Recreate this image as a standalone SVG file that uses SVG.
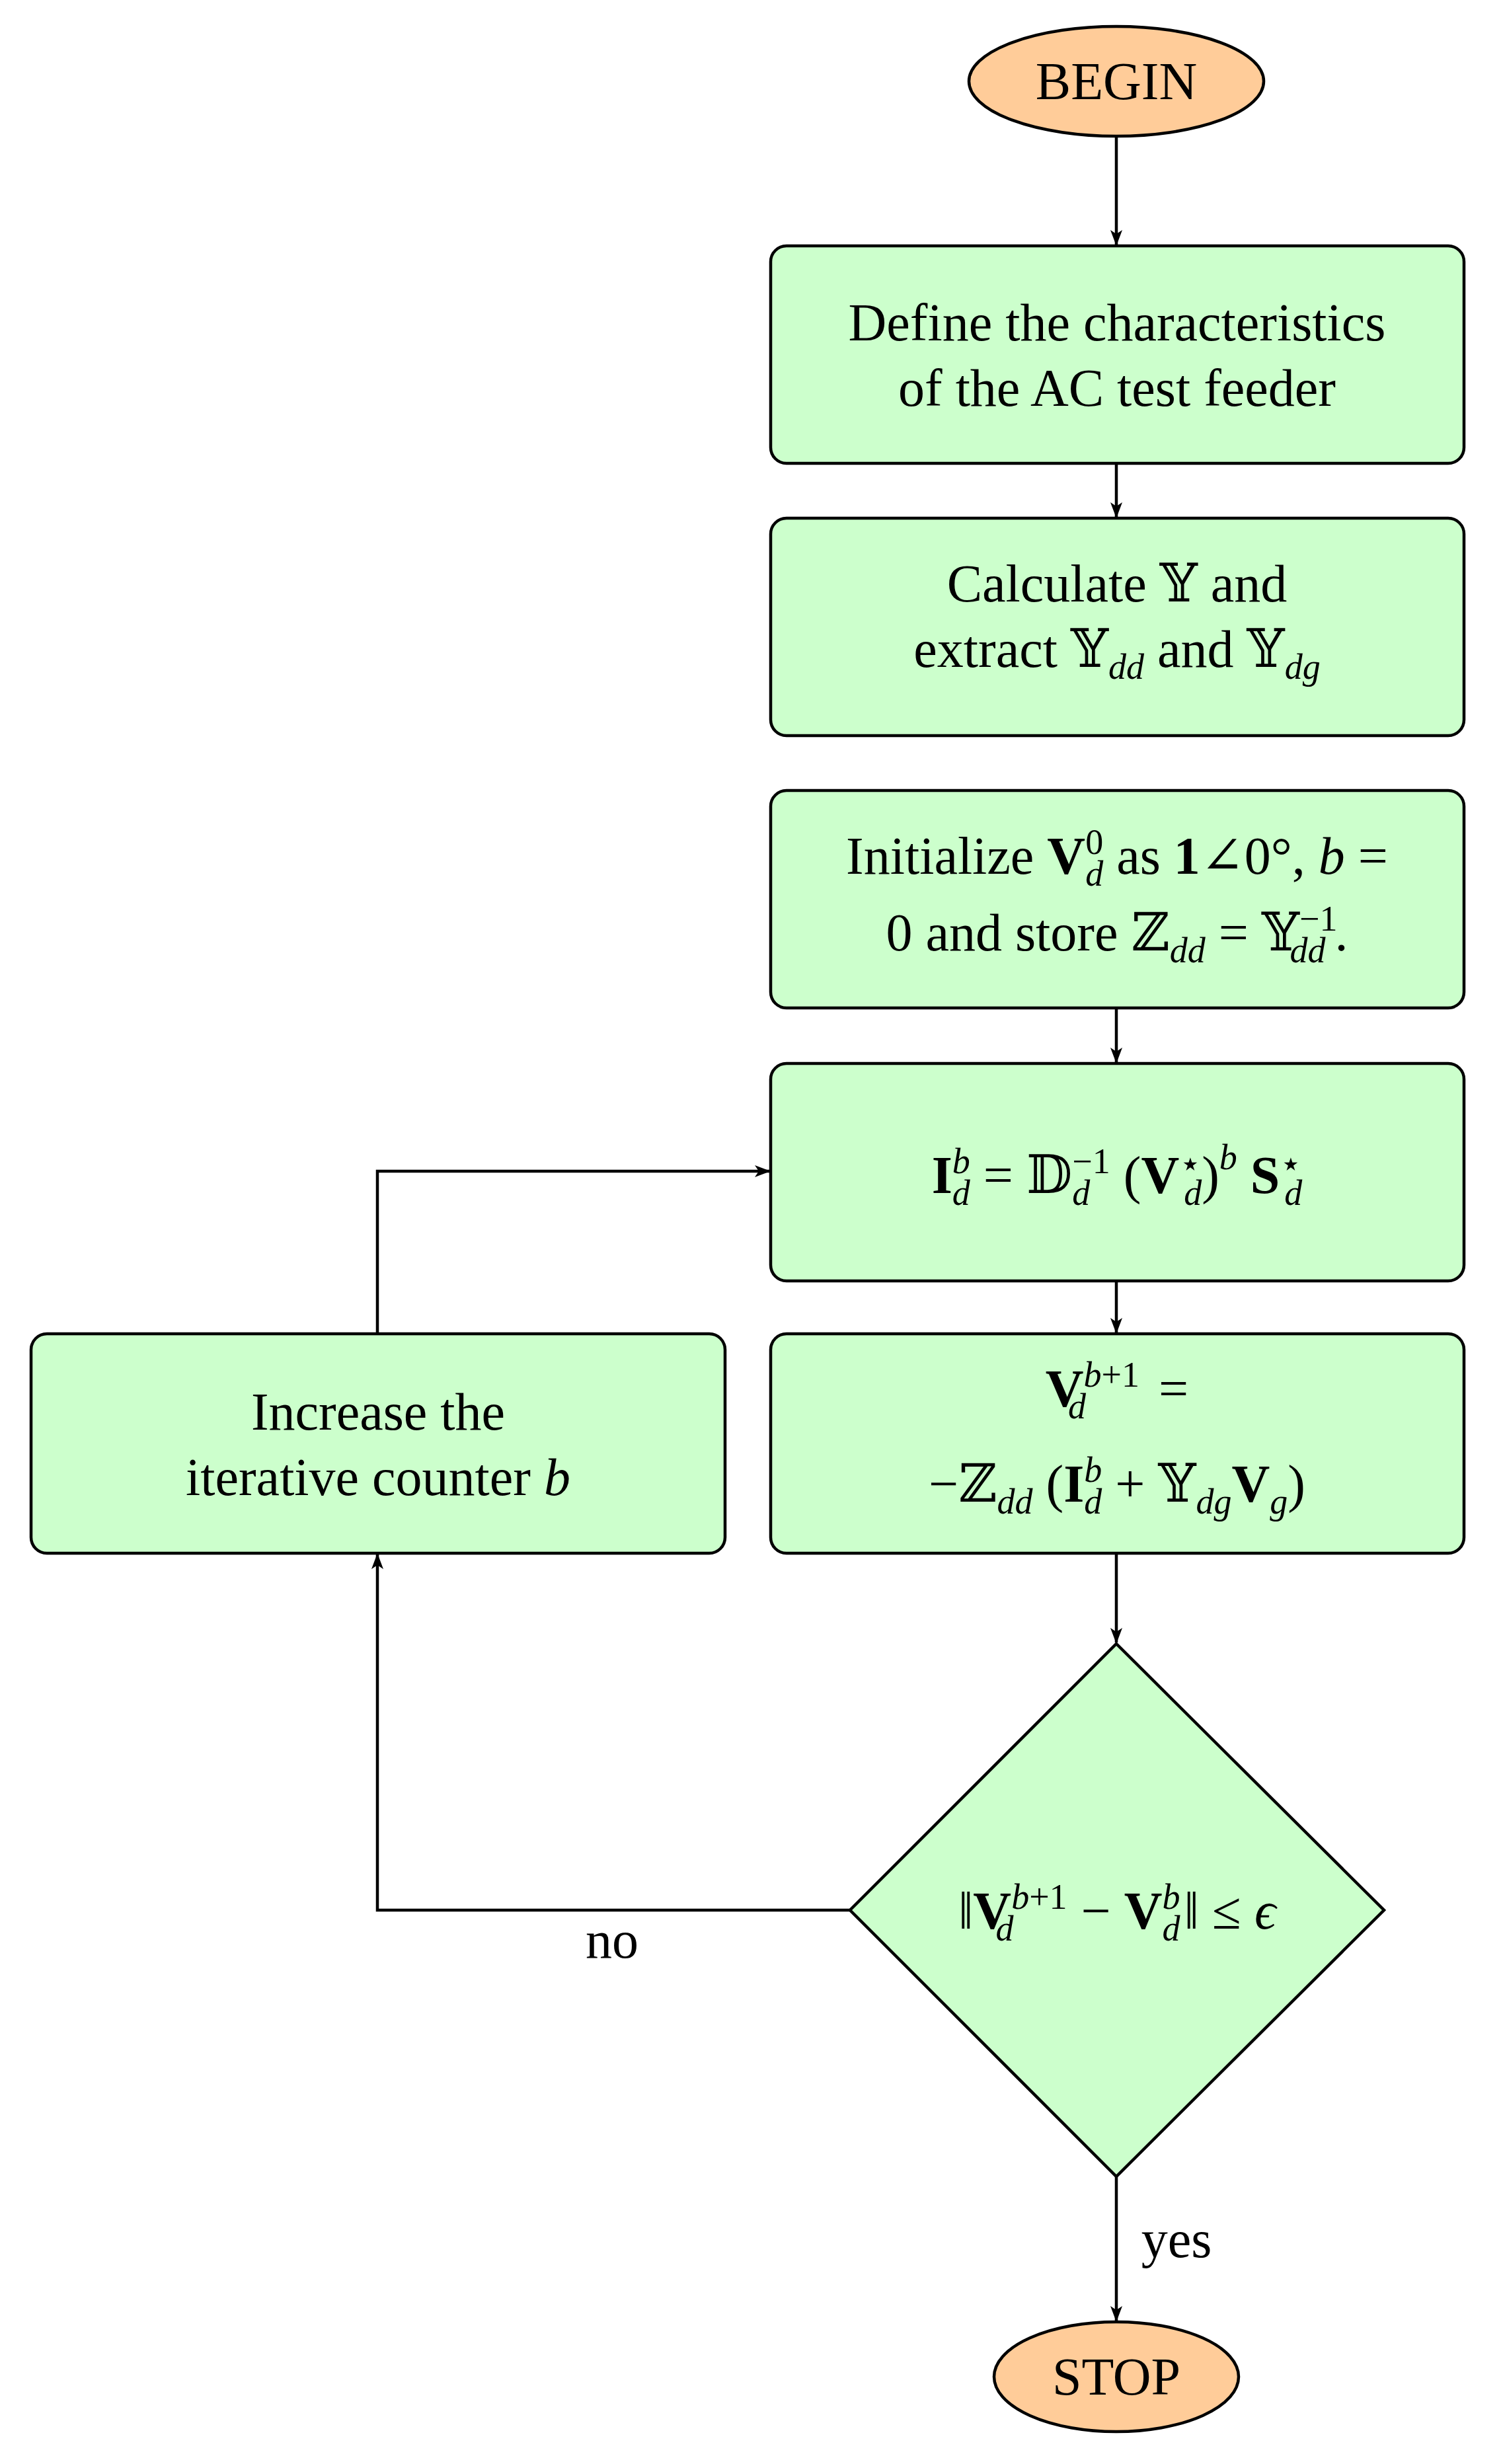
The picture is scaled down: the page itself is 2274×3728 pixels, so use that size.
<svg xmlns="http://www.w3.org/2000/svg" width="2274" height="3728" viewBox="0 0 2274 3728">
<style>
.b{fill:#ccffcc;stroke:#000;stroke-width:4.5}
.o{fill:#ffcc99;stroke:#000;stroke-width:4.5}
.t{font-family:"Liberation Serif","DejaVu Serif",serif;font-size:80px;text-anchor:middle;fill:#000}
.s{font-size:54px}
.i{font-style:italic}
.w{font-weight:bold}
.c{fill:none;stroke:#000;stroke-width:4.5}
</style>
<defs><marker id="a" viewBox="0 0 24 18" refX="22" refY="9" markerWidth="24" markerHeight="18" orient="auto" markerUnits="userSpaceOnUse"><path d="M0,0 L24,9 L0,18 L6,9z" fill="#000"/></marker></defs>
<g id="begin"><ellipse class="o" cx="1689" cy="123" rx="223" ry="83"/><text class="t" x="1689" y="150">BEGIN</text></g>
<g id="n1"><rect class="b" x="1166" y="372" width="1049" height="329" rx="24"/><text class="t" x="1690" y="515">Define the characteristics</text><text class="t" x="1690" y="614">of the AC test feeder</text></g>
<g id="n2"><rect class="b" x="1166" y="784" width="1049" height="329" rx="24"/><text class="t" x="1690" y="910">Calculate 𝕐 and</text><text class="t" x="1690" y="1009">extract 𝕐<tspan class="s i" dy="18">dd</tspan><tspan dy="-18"> and 𝕐</tspan><tspan class="s i" dy="18">dg</tspan></text></g>
<g id="n3"><rect class="b" x="1166" y="1196" width="1049" height="329" rx="24"/><text class="t" x="1690" y="1322">Initialize <tspan class="w">V</tspan><tspan class="s" dy="-30">0</tspan><tspan class="s i" dx="-27" dy="48">d</tspan><tspan dy="-18"> as </tspan><tspan class="w">1</tspan>∠0°, <tspan class="i">b</tspan> =</text><text class="t" x="1690" y="1438">0 and store ℤ<tspan class="s i" dy="18">dd</tspan><tspan dy="-18"> = 𝕐</tspan><tspan class="s" dy="-30">−1</tspan><tspan class="s i" dx="-72" dy="48">dd</tspan><tspan dx="14" dy="-18">.</tspan></text></g>
<g id="n4"><rect class="b" x="1166" y="1609" width="1049" height="329" rx="24"/><text class="t" x="1690" y="1805"><tspan class="w">I</tspan><tspan class="s i" dy="-30">b</tspan><tspan class="s i" dx="-27" dy="48">d</tspan><tspan dy="-18"> = 𝔻</tspan><tspan class="s i" dy="18">d</tspan><tspan class="s" dx="-27" dy="-48">−1</tspan><tspan dy="30"> (</tspan><tspan class="w">V</tspan><tspan class="s" dy="-26">⋆</tspan><tspan class="s i" dx="-27" dy="44">d</tspan><tspan dy="-18">)</tspan><tspan class="s i" dy="-36">b</tspan><tspan class="w" dy="36"> S</tspan><tspan class="s" dy="-26">⋆</tspan><tspan class="s i" dx="-27" dy="44">d</tspan></text></g>
<g id="n5"><rect class="b" x="1166" y="2018" width="1049" height="332" rx="24"/><text class="t" x="1690" y="2128"><tspan class="w">V</tspan><tspan class="s i" dy="-30">b</tspan><tspan class="s">+1</tspan><tspan class="s i" dx="-108" dy="48">d</tspan><tspan dx="90" dy="-18">  =</tspan></text><text class="t" x="1690" y="2272">−ℤ<tspan class="s i" dy="18">dd</tspan><tspan dy="-18"> (</tspan><tspan class="w">I</tspan><tspan class="s i" dy="-30">b</tspan><tspan class="s i" dx="-27" dy="48">d</tspan><tspan dy="-18"> + 𝕐</tspan><tspan class="s i" dy="18">dg</tspan><tspan class="w" dy="-18">V</tspan><tspan class="s i" dy="18">g</tspan><tspan dy="-18">)</tspan></text></g>
<g id="n6"><rect class="b" x="47" y="2018" width="1050" height="332" rx="24"/><text class="t" x="572" y="2163">Increase the</text><text class="t" x="572" y="2262">iterative counter <tspan class="i">b</tspan></text></g>
<g id="d"><polygon class="b" points="1689,2487 2094,2890 1689,3293 1286,2890"/><text class="t" x="1690" y="2918">‖<tspan class="w">V</tspan><tspan class="s i" dy="-30">b</tspan><tspan class="s">+1</tspan><tspan class="s i" dx="-108" dy="48">d</tspan><tspan dx="82" dy="-18"> − </tspan><tspan class="w">V</tspan><tspan class="s i" dy="-30">b</tspan><tspan class="s i" dx="-27" dy="48">d</tspan><tspan dx="6" dy="-18">‖ ≤ </tspan><tspan class="i">ϵ</tspan></text></g>
<g id="stop"><ellipse class="o" cx="1689" cy="3596" rx="185" ry="83"/><text class="t" x="1689" y="3623">STOP</text></g>
<g id="connectors">
<path class="c" d="M1689,206 V370" marker-end="url(#a)"/>
<path class="c" d="M1689,701 V782" marker-end="url(#a)"/>
<path class="c" d="M1689,1525 V1607" marker-end="url(#a)"/>
<path class="c" d="M1689,1938 V2016" marker-end="url(#a)"/>
<path class="c" d="M1689,2350 V2485" marker-end="url(#a)"/>
<path class="c" d="M1689,3293 V3511" marker-end="url(#a)"/>
<path class="c" d="M571,2018 V1772 H1164" marker-end="url(#a)"/>
<path class="c" d="M1286,2890 H571 V2352" marker-end="url(#a)"/>
<text class="t" x="926" y="2962">no</text>
<text class="t" x="1780" y="3415">yes</text>
</g>
</svg>
